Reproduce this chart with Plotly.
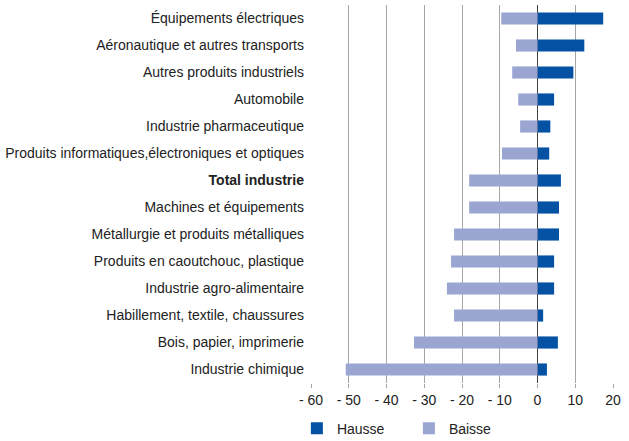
import plotly.graph_objects as go

categories = [
    "Équipements électriques",
    "Aéronautique et autres transports",
    "Autres produits industriels",
    "Automobile",
    "Industrie pharmaceutique",
    "Produits informatiques,électroniques et optiques",
    "Total industrie",
    "Machines et équipements",
    "Métallurgie et produits métalliques",
    "Produits en caoutchouc, plastique",
    "Industrie agro-alimentaire",
    "Habillement, textile, chaussures",
    "Bois, papier, imprimerie",
    "Industrie chimique",
]
hausse = [17.4, 12.4, 9.5, 4.4, 3.4, 3.1, 6.2, 5.7, 5.7, 4.4, 4.4, 1.5, 5.4, 2.5]
baisse = [-9.6, -5.7, -6.7, -5.1, -4.6, -9.4, -18.1, -18.1, -22.1, -22.9, -24.0, -22.1, -32.7, -50.8]
tick_vals = [-60, -50, -40, -30, -20, -10, 0, 10, 20]
tick_text = ["- 60", "- 50", "- 40", "- 30", "- 20", "- 10", "0", "10", "20"]

cat_labels = ["<b>%s</b>" % c if c == "Total industrie" else c for c in categories]

FONT = "Liberation Sans, Arial, sans-serif"

fig = go.Figure()
fig.add_trace(go.Bar(y=categories, x=hausse, orientation="h", name="Hausse",
                     marker=dict(color="#0552A5", line=dict(width=0))))
fig.add_trace(go.Bar(y=categories, x=baisse, orientation="h", name="Baisse",
                     marker=dict(color="#9AA5D2", line=dict(width=0))))

fig.update_layout(
    width=629, height=441,
    margin=dict(l=311, r=16, t=5, b=58, autoexpand=False),
    barmode="relative",
    bargap=0.55,
    hovermode=False,
    paper_bgcolor="white",
    plot_bgcolor="white",
    font=dict(family=FONT, size=14, color="#222222"),
    legend=dict(orientation="h", xref="container", x=0.472, xanchor="left",
                yref="container", y=0.028, yanchor="middle",
                font=dict(family=FONT, size=14, color="#222222"),
                traceorder="normal", itemwidth=30, tracegroupgap=0,
                entrywidth=67, entrywidthmode="pixels"),
    showlegend=True,
)
fig.update_xaxes(range=[-60, 20], tickvals=tick_vals, ticktext=tick_text,
                 showgrid=True, gridcolor="#A6A6A6", gridwidth=1,
                 zeroline=True, zerolinecolor="#404040", zerolinewidth=1,
                 ticks="outside", ticklen=4, tickcolor="#A6A6A6",
                 showline=False, tickfont=dict(size=14), automargin=False)
fig.update_yaxes(categoryorder="array", categoryarray=categories,
                 tickvals=categories, ticktext=cat_labels,
                 autorange="reversed", showgrid=False, showline=False,
                 ticks="", ticklabelstandoff=6, tickfont=dict(size=14),
                 automargin=False)

fig.write_html("out.html", config={"displayModeBar": False, "staticPlot": True},
               post_script="document.body.style.margin='0px';document.body.style.padding='0px';")
